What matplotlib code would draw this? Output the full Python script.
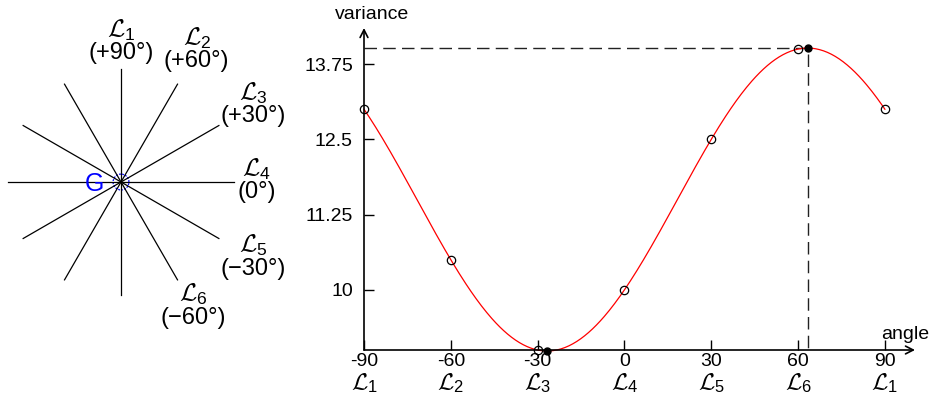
import matplotlib
matplotlib.use("Agg")
import matplotlib.pyplot as plt
from matplotlib.patches import Circle
import numpy as np

plt.rcParams["font.family"] = ["Liberation Sans", "DejaVu Sans"]
plt.rcParams["mathtext.fontset"] = "custom"
plt.rcParams["mathtext.rm"] = "Liberation Sans"
plt.rcParams["mathtext.it"] = "Liberation Sans:italic"
plt.rcParams["mathtext.bf"] = "Liberation Sans:bold"
plt.rcParams["mathtext.cal"] = "cmsy10"
plt.rcParams["axes.unicode_minus"] = False

# the six directions L1..L6 through the centre G (degrees)
LINE_ANGLES = [90, 60, 30, 0, -30, -60]
LINE_NAMES = ["1", "2", "3", "4", "5", "6"]
LINE_TAGS = ["(+90°)", "(+60°)", "(+30°)", "(0°)", "(\u221230°)", "(\u221260°)"]

# variance measured along each direction
ANGLES = [-90, -60, -30, 0, 30, 60, 90]
VARIANCE = [13.0, 10.5, 9.0, 10.0, 12.5, 14.0, 13.0]
ANGLE_NAMES = ["1", "2", "3", "4", "5", "6", "1"]
Y_TICKS = [10, 11.25, 12.5, 13.75]

fig = plt.figure(figsize=(9.3, 3.96), dpi=100)

# --- star of directions -------------------------------------------------
axl = fig.add_axes([0, 0, 300 / 930, 1])
axl.set_xlim(-1.071, 1.584)
axl.set_ylim(-1.894, 1.611)
axl.axis("off")

label_r = [1.23, 1.34, 1.35, 1.2, 1.35, 1.28]
for a, name, tag, r in zip(LINE_ANGLES, LINE_NAMES, LINE_TAGS, label_r):
    t = np.radians(a)
    axl.plot([-np.cos(t), np.cos(t)], [-np.sin(t), np.sin(t)], color="black", lw=0.9)
    pos = (r * np.cos(t), r * np.sin(t))
    axl.annotate("$\\mathcal{L}_%s$" % name, xy=pos, xytext=(0, 9),
                 textcoords="offset points", fontsize=18, ha="center", va="center")
    axl.annotate(tag, xy=pos, xytext=(0, -7.5), textcoords="offset points",
                 fontsize=17, ha="center", va="center")

axl.add_patch(Circle((0, 0), 0.07, fill=False, ec="blue", lw=0.9, ls=(0, (1.5, 1))))
axl.text(-0.15, -0.02, "G", color="blue", fontsize=18, ha="right", va="center")

# --- variance against angle ---------------------------------------------
ax = fig.add_axes([364 / 930, 46 / 396, 551 / 930, 322 / 396])
ax.set_xlim(-90, 100.4)
ax.set_ylim(9.0, 14.35)
for s in ax.spines.values():
    s.set_visible(False)

# least-squares fit of a + b cos2t + c sin2t over one period
th = np.radians(2 * np.array(ANGLES[:-1]))
A = np.column_stack([np.ones_like(th), np.cos(th), np.sin(th)])
a0, b0, c0 = np.linalg.lstsq(A, np.array(VARIANCE[:-1]), rcond=None)[0]
amp = np.hypot(b0, c0)
t_max = np.degrees(np.arctan2(c0, b0)) / 2
t_min = t_max - 90
v_max, v_min = a0 + amp, a0 - amp

tt = np.linspace(-90, 90, 400)
ax.plot(tt, a0 + b0 * np.cos(np.radians(2 * tt)) + c0 * np.sin(np.radians(2 * tt)),
        color="red", lw=0.9, clip_on=False, zorder=3)

ax.plot([-90, t_max, t_max], [v_max, v_max, 9.0], color="#222222", lw=1.0,
        ls=(0, (9, 4.5)), clip_on=False, zorder=2)

ax.plot(ANGLES, VARIANCE, ls="none", marker="o", ms=6, mfc="none", mec="black",
        mew=0.9, clip_on=False, zorder=4)
ax.plot([t_min, t_max], [v_min, v_max], ls="none", marker="o", ms=5, color="black",
        clip_on=False, zorder=5)

arrow = dict(arrowstyle="->,head_length=0.55,head_width=0.28", lw=1.2, color="black",
             shrinkA=0, shrinkB=0)
ax.annotate("", xy=(1, 0), xytext=(0, 0), xycoords="axes fraction", arrowprops=arrow)
ax.annotate("", xy=(0, 1), xytext=(0, 0), xycoords="axes fraction", arrowprops=arrow)

ax.annotate("variance", xy=(0, 1), xycoords="axes fraction", xytext=(6, 9.5),
            textcoords="offset points", ha="center", va="center", fontsize=14)
ax.annotate("angle", xy=(1, 0), xycoords="axes fraction", xytext=(-7, 11),
            textcoords="offset points", ha="center", va="center", fontsize=14)

ax.set_xticks(ANGLES)
ax.set_xticklabels(["%d" % a for a in ANGLES])
# second row of x labels: the direction each angle corresponds to
for a, n in zip(ANGLES, ANGLE_NAMES):
    ax.annotate("$\\mathcal{L}_%s$" % n, xy=(a, 0), xycoords=ax.get_xaxis_transform(),
                xytext=(0, -24), textcoords="offset points", fontsize=17,
                ha="center", va="center")
ax.set_yticks(Y_TICKS)
ax.set_yticklabels(["%g" % v for v in Y_TICKS])
ax.tick_params(axis="x", direction="in", length=7, width=1, pad=2, labelsize=14,
               top=False)
ax.tick_params(axis="y", direction="in", length=7, width=1, pad=8, labelsize=14,
               right=False)

fig.savefig("out.png", dpi=100, facecolor="white")
